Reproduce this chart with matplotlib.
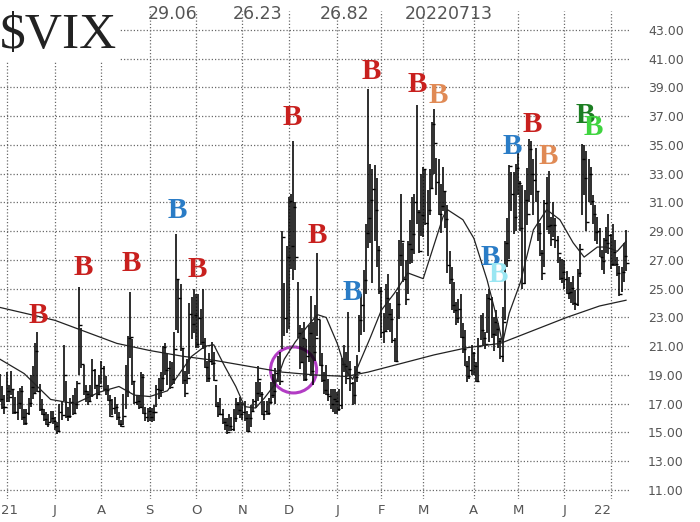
import numpy as np
import matplotlib
matplotlib.use("Agg")
import matplotlib.pyplot as plt
from matplotlib.patches import Ellipse

# daily VIX bars, 26 May 2021 .. 13 Jul 2022 (trading days)
highs = [19.1, 18.2, 17.6,  # May
         19.2, 18.3, 19.3, 18.0, 17.5, 17.9, 18.1, 18.2, 16.6, 16.6, 17.4, 19.0, 19.6, 21.2, 22.0, 18.4, 17.3, 16.6, 16.4, 16.3, 16.5, 16.5,  # Jun
         16.1, 15.7, 17.0, 17.1, 21.1, 18.6, 16.8, 17.4, 17.6, 18.1, 18.6, 25.1, 22.3, 19.7, 18.3, 17.9, 18.3, 20.1, 19.4, 18.3, 19.0,  # Jul
         20.0, 19.6, 18.9, 18.3, 17.6, 17.3, 17.5, 17.0, 16.4, 15.9, 17.7, 19.7, 21.7, 24.8, 21.5, 18.5, 17.6, 17.6, 19.2, 19.1, 16.8, 16.7,  # Aug
         16.8, 16.7, 16.9, 18.3, 18.8, 19.2, 21.0, 21.2, 20.5, 20.0, 19.9, 22.0, 28.8, 25.7, 25.3, 20.9, 19.3, 20.1, 24.0, 24.4, 25.0,  # Sep
         24.6, 24.6, 23.6, 25.0, 21.6, 20.0, 20.5, 21.3, 20.6, 18.3, 17.1, 17.4, 16.6, 16.0, 16.0, 16.3, 16.1, 16.6, 17.4, 17.1, 17.5,  # Oct
         17.1, 17.2, 16.5, 16.3, 16.9, 17.3, 18.5, 19.6, 18.5, 17.8, 17.2, 17.2, 17.4, 18.5, 19.1, 19.5, 20.3, 20.6, 29.0, 25.4, 28.0,  # Nov
         31.4, 31.6, 35.3, 31.0, 25.5, 22.5, 22.3, 22.7, 21.5, 22.5, 24.5, 22.7, 23.9, 27.5, 22.8, 20.5, 19.2, 19.7, 18.7, 18.0, 18.0, 18.0,  # Dec
         17.8, 18.0, 20.2, 21.1, 20.6, 23.4, 20.0, 18.5, 19.6, 20.4, 23.2, 24.6, 26.3, 29.5, 38.9, 33.7, 33.3, 33.6, 32.7, 28.0,  # Jan
         25.1, 23.3, 25.3, 26.0, 24.0, 23.6, 21.6, 24.8, 28.4, 31.6, 28.2, 27.0, 28.3, 29.8, 31.4, 31.6, 37.8, 30.5, 33.0,  # Feb
         33.5, 33.3, 31.9, 33.3, 36.6, 37.5, 34.1, 34.0, 32.3, 33.5, 31.8, 30.8, 27.6, 26.5, 25.5, 24.1, 24.3, 24.6, 22.6, 22.1, 20.0, 20.3, 21.1,  # Mar
         20.6, 19.9, 21.6, 23.2, 23.3, 22.0, 24.6, 25.0, 24.4, 23.0, 23.5, 22.6, 21.6, 23.7, 28.3, 29.9, 33.6, 33.1, 33.1, 33.7,  # Apr
         35.0, 32.5, 32.2, 31.9, 33.4, 35.4, 35.3, 34.0, 34.8, 31.7, 29.6, 27.7, 31.2, 32.8, 33.2, 30.0, 31.0, 29.9, 28.7, 27.2, 27.1,  # May
         27.0, 26.2, 25.8, 25.5, 25.9, 24.9, 26.4, 28.1, 35.1, 35.0, 34.6, 34.0, 33.5, 31.5, 30.8, 30.0, 29.2, 27.7, 28.5, 29.3, 30.2,  # Jun
         28.8, 29.5, 28.4, 27.2, 26.6, 26.5, 28.2, 29.06]  # Jul
lows = [17.1, 16.6, 16.3,
        17.1, 17.1, 17.6, 16.3, 16.3, 15.9, 16.6, 15.9, 15.5, 15.5, 16.2, 16.8, 17.3, 17.7, 17.8, 16.5, 16.2, 15.8, 15.5, 15.4, 15.7, 15.6,
        15.2, 14.9, 15.1, 15.9, 17.2, 16.0, 15.8, 16.0, 16.2, 16.3, 16.6, 19.0, 19.5, 17.6, 17.1, 16.9, 17.2, 17.5, 18.0, 17.3, 17.7,
        18.4, 17.9, 17.6, 17.2, 16.1, 16.2, 16.3, 15.9, 15.5, 15.4, 15.5, 16.6, 17.5, 20.2, 18.3, 17.0, 16.9, 16.6, 16.7, 16.3, 15.8, 15.7,
        15.8, 15.7, 15.8, 16.8, 17.3, 17.5, 17.9, 19.0, 18.3, 18.0, 18.3, 18.4, 22.1, 21.9, 20.7, 18.4, 17.5, 18.4, 19.1, 21.5, 21.9,
        20.9, 20.9, 21.1, 20.8, 19.5, 18.5, 18.5, 19.7, 18.6, 16.8, 16.1, 16.2, 15.6, 15.2, 14.9, 15.1, 15.1, 15.1, 15.7, 16.2, 16.0,
        15.9, 15.8, 15.0, 15.1, 15.4, 16.4, 16.7, 17.2, 17.5, 16.2, 15.9, 16.2, 16.2, 17.0, 17.4, 17.0, 18.5, 18.3, 20.8, 21.7, 21.9,
        22.2, 26.4, 25.6, 26.3, 21.6, 19.4, 19.8, 18.6, 18.6, 19.9, 18.9, 18.3, 20.0, 21.7, 19.6, 18.5, 17.7, 17.6, 17.2, 16.6, 16.4, 16.3,
        16.3, 16.5, 16.6, 19.2, 18.4, 18.9, 17.9, 16.9, 17.0, 18.5, 20.6, 21.8, 22.0, 24.6, 27.8, 28.2, 25.4, 28.3, 26.5, 24.6,
        21.6, 21.2, 22.0, 22.1, 22.0, 21.2, 19.9, 20.0, 22.9, 26.6, 25.5, 23.9, 24.6, 26.7, 26.8, 27.4, 29.5, 27.5, 28.7,
        28.6, 29.4, 27.3, 30.1, 32.0, 33.0, 31.5, 30.1, 28.9, 30.4, 29.2, 26.1, 25.3, 23.5, 23.3, 22.5, 22.6, 21.6, 20.5, 19.6, 18.5, 18.7, 19.0,
        19.0, 18.5, 18.6, 21.4, 21.1, 20.8, 21.9, 21.3, 21.6, 20.7, 21.7, 20.9, 20.1, 19.9, 22.8, 26.5, 27.1, 30.4, 28.8, 29.0,
        31.5, 29.0, 25.0, 25.3, 29.4, 31.0, 31.5, 30.1, 31.0, 28.3, 27.3, 25.6, 26.5, 29.1, 28.8, 28.0, 28.6, 27.8, 26.8, 25.6, 25.4,
        25.0, 24.6, 24.3, 24.0, 23.9, 23.5, 23.8, 25.8, 30.1, 31.5, 29.0, 31.0, 30.8, 29.5, 28.3, 28.1, 27.2, 26.3, 26.0, 27.5, 27.4,
        26.4, 26.6, 26.6, 25.9, 24.5, 24.8, 25.5, 26.23]
closes = [17.36, 16.74, 16.76,
          17.90, 17.48, 18.04, 16.42, 16.42, 17.07, 17.89, 16.10, 15.65, 16.39, 17.02, 18.15, 17.75, 20.70, 17.89, 16.66, 16.32, 15.97, 15.62, 15.76, 16.02, 15.83,
          15.48, 15.07, 16.44, 16.20, 19.00, 16.18, 16.17, 17.12, 16.33, 17.01, 18.45, 22.50, 19.73, 17.91, 17.69, 17.20, 17.58, 19.36, 18.31, 17.70, 18.24,
          19.46, 18.04, 17.97, 17.28, 16.15, 16.72, 16.79, 16.06, 15.59, 15.45, 16.12, 17.91, 21.57, 21.67, 18.56, 17.15, 17.22, 16.79, 18.84, 16.39, 16.11, 16.48,
          16.11, 16.41, 16.41, 18.00, 17.96, 18.80, 20.95, 19.37, 19.46, 18.18, 18.69, 20.81, 25.71, 24.36, 20.87, 18.63, 17.75, 18.76, 23.25, 22.56, 23.14,
          21.15, 22.96, 21.30, 21.00, 19.54, 18.77, 20.00, 19.85, 18.64, 16.86, 16.30, 16.31, 15.70, 15.49, 15.01, 15.43, 15.24, 15.98, 16.98, 16.53, 16.26,
          16.41, 16.03, 15.10, 16.03, 16.48, 17.22, 17.78, 18.73, 17.66, 16.29, 16.49, 16.37, 17.11, 17.59, 17.91, 19.17, 19.38, 18.58, 28.62, 22.96, 27.19,
          31.12, 27.95, 30.67, 27.18, 21.89, 19.90, 21.58, 18.69, 20.31, 21.89, 19.29, 20.57, 21.57, 22.87, 19.70, 18.63, 17.96, 17.68, 17.54, 16.95, 17.33, 17.22,
          16.60, 16.91, 19.73, 19.61, 18.76, 19.40, 18.41, 17.62, 18.83, 19.19, 22.79, 23.85, 25.59, 28.85, 29.90, 31.16, 31.96, 30.49, 27.66, 24.83,
          21.96, 22.09, 24.35, 23.22, 22.86, 21.44, 19.96, 23.91, 27.36, 28.33, 25.70, 24.29, 28.11, 27.75, 28.81, 31.02, 30.32, 27.59, 30.15,
          33.32, 29.57, 30.48, 31.98, 36.45, 35.13, 32.45, 30.23, 30.75, 31.77, 29.83, 26.67, 25.67, 23.87, 23.53, 22.94, 23.57, 21.67, 20.81, 19.63, 18.90, 19.33, 20.56,
          19.63, 18.57, 21.03, 22.10, 21.55, 21.16, 24.37, 24.26, 21.82, 22.70, 22.17, 21.37, 20.32, 22.68, 28.21, 27.02, 33.52, 31.60, 29.99, 33.40,
          32.34, 29.25, 25.42, 31.20, 30.19, 34.75, 32.99, 32.56, 31.77, 28.87, 27.47, 26.10, 30.96, 29.35, 29.43, 28.48, 29.45, 28.37, 27.50, 25.72, 26.19,
          25.69, 24.72, 24.79, 25.07, 24.02, 23.96, 26.09, 27.75, 34.02, 32.69, 29.62, 32.95, 31.13, 30.19, 28.95, 29.05, 27.23, 26.95, 28.36, 28.16, 28.71,
          26.70, 27.54, 26.73, 26.08, 24.64, 26.17, 27.29, 26.82]
last_date = "20220713"

# trading days per month, Jun 2021 .. Jun 2022 (gives the month grid lines)
month_len = [22, 21, 22, 21, 21, 21, 22, 20, 19, 23, 20, 21, 21]
month_lab = ["21", "J", "A", "S", "O", "N", "D", "J", "F", "M", "A", "M", "J", "22"]

# moving averages (day index, value)
ma20_day = [-3, 8, 20, 31, 42, 51, 58, 65, 73, 78, 84, 90, 94, 99, 104, 108, 113, 117, 122, 126,
            131, 136, 141, 145, 150, 154, 157, 160, 165, 170, 176, 182, 189, 198, 200, 207, 212, 218,
            223, 225, 228, 233, 239, 245, 251, 257, 262, 268, 272, 277, 281]
ma20_val = [20.1, 19.1, 17.3, 17.0, 17.8, 18.2, 17.6, 17.5, 17.9, 19.0, 20.3, 21.0, 21.1, 19.6, 18.2, 16.8, 16.7, 17.4, 18.4, 20.1,
            21.3, 22.3, 23.2, 23.0, 21.2, 19.3, 18.7, 19.8, 21.6, 23.5, 24.7, 26.1, 25.7, 30.0, 30.5, 29.8, 28.5, 25.6,
            22.6, 21.2, 23.3, 25.4, 29.1, 30.5, 29.8, 28.2, 27.2, 27.9, 27.9, 27.6, 28.3]
ma200_day = [-3, 11, 22, 36, 50, 65, 80, 95, 110, 125, 140, 154, 164, 179, 194, 209, 224, 239, 254, 269, 281]
ma200_val = [23.7, 23.2, 22.8, 22.0, 21.2, 20.7, 20.3, 20.0, 19.6, 19.2, 19.0, 18.9, 19.2, 19.8, 20.4, 20.9, 21.2, 22.1, 23.0, 23.8, 24.2]

days = np.arange(-3, len(highs) - 3)
ticks = np.concatenate([[0], np.cumsum(month_len)])

fig = plt.figure(figsize=(7, 5.22), dpi=100)
ax = fig.add_axes([0, 0.0448, 0.9, 0.9336])
ax.set_xlim(-2.95, 282.8)
ax.set_ylim(10.4, 44.3)

ax.vlines(days, lows, highs, color='black', lw=1.15)
ax.plot(days, closes, linestyle='none', marker=1, markersize=2.5, mew=1.0, color='black')
ax.plot(ma20_day, ma20_val, color='#222222', lw=0.9)
ax.plot(ma200_day, ma200_val, color='#222222', lw=0.9)

# buy signals
signals = [(14.3, 23.3, '#c8201e'), (34.7, 26.65, '#c8201e'), (56.5, 26.9, '#c8201e'),
           (77.3, 30.6, '#2a7cc6'), (86.5, 26.5, '#c8201e'), (129.8, 37.1, '#c8201e'),
           (140.8, 28.9, '#c8201e'), (156.7, 24.9, '#2a7cc6'), (165.3, 40.3, '#c8201e'),
           (186.2, 39.4, '#c8201e'), (195.7, 38.6, '#e08a55'), (219.3, 27.35, '#2a7cc6'),
           (222.9, 26.15, '#9ae6f2'), (229.2, 35.1, '#2a7cc6'), (238.3, 36.6, '#c8201e'),
           (245.6, 34.35, '#e08a55'), (262.4, 37.2, '#1c7e22'), (266.0, 36.4, '#3fd43f')]
for sx, sy, col in signals:
    ax.text(sx, sy - 0.7, 'B', color=col, fontsize=21, fontweight='bold',
            family='Liberation Serif', ha='center', va='baseline')

ax.add_patch(Ellipse((130.2, 19.35), 20.9, 3.2, fill=False, ec='#b23cc4', lw=2.2))

ax.set_xticks(ticks)
ax.set_xticklabels([''] + month_lab[1:])
ax.get_xticklabels()[-1].set_horizontalalignment('right')
# first year label sits cut against the left edge
ax.text(0.001, -0.012, month_lab[0], transform=ax.transAxes, fontsize=9.5,
        color='#555555', ha='left', va='top')
ax.set_yticks(np.arange(11, 44, 2))
ax.set_yticklabels(['%.2f' % v for v in np.arange(11, 44, 2)])
ax.yaxis.tick_right()
ax.tick_params(axis='y', length=0, pad=13, labelsize=9, labelcolor='#555555')
ax.tick_params(axis='x', length=0, pad=4, labelsize=9.5, labelcolor='#555555')
ax.grid(True, color='#6a6a6a', linestyle=(0, (1, 1.6)), linewidth=0.9)
for s in ax.spines.values():
    s.set_visible(False)

fig.text(0.0, (522 - 48) / 522, r'\$VIX', family='Liberation Serif', fontsize=37,
         ha='left', va='baseline', color='#222222',
         bbox=dict(fc='white', ec='none', pad=1))
hdr = ['%.2f' % highs[-1], '%.2f' % lows[-1], '%.2f' % closes[-1], last_date]
for xp, t in zip([148, 233, 320, 405], hdr):
    fig.text(xp / 700, (522 - 19) / 522, t, fontsize=12.5, color='#555555',
             ha='left', va='baseline')

fig.savefig('out.png', dpi=100)
